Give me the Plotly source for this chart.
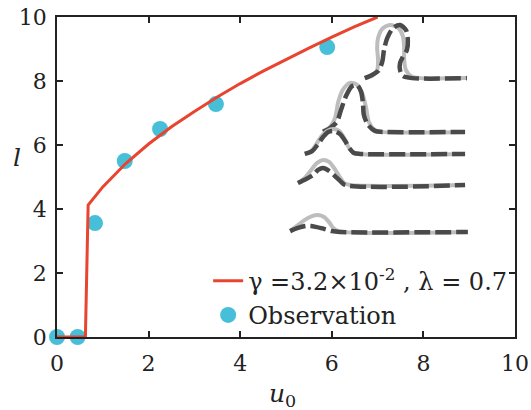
import plotly.graph_objects as go

# Model curve (gamma=3.2e-2, lambda=0.7)
model_u0 = [0.0, 0.62, 0.68, 1.0, 1.5, 2.0, 2.5, 3.0, 3.5, 4.0, 4.5, 5.0, 5.5, 6.0, 6.5, 7.0]
model_l = [0.0, 0.0, 4.12, 4.69, 5.42, 6.03, 6.57, 7.05, 7.50, 7.92, 8.31, 8.68, 9.03, 9.37, 9.70, 10.0]

# Observations
obs_u0 = [0.0, 0.45, 0.83, 1.48, 2.25, 3.47, 5.9]
obs_l = [0.0, 0.0, 3.56, 5.5, 6.5, 7.28, 9.06]

# Inset wave profiles (illustrations): light = earlier, dashed = later
p1_light_x = [6.72, 6.88, 6.99, 7.01, 6.99, 7.01, 7.10, 7.27, 7.45, 7.55, 7.58, 7.58, 7.62, 7.75, 7.93, 8.95]
p1_light_y = [8.09, 8.16, 8.34, 8.66, 9.03, 9.34, 9.63, 9.75, 9.66, 9.41, 9.03, 8.66, 8.34, 8.13, 8.09, 8.09]
p1_dark_x = [6.72, 6.88, 7.01, 7.10, 7.14, 7.21, 7.34, 7.49, 7.62, 7.66, 7.64, 7.55, 7.49, 7.49, 7.55, 7.75, 8.95]
p1_dark_y = [8.09, 8.19, 8.31, 8.59, 8.97, 9.34, 9.66, 9.75, 9.59, 9.28, 8.97, 8.75, 8.56, 8.34, 8.16, 8.09, 8.09]

p2_light_x = [5.81, 5.96, 6.07, 6.14, 6.24, 6.40, 6.55, 6.66, 6.75, 6.81, 6.94, 7.10, 8.91]
p2_light_y = [6.44, 6.56, 6.84, 7.34, 7.72, 7.94, 7.88, 7.63, 7.16, 6.72, 6.47, 6.41, 6.41]
p2_dark_x = [5.81, 5.96, 6.11, 6.20, 6.31, 6.44, 6.55, 6.64, 6.68, 6.70, 6.79, 6.94, 7.10, 8.91]
p2_dark_y = [6.41, 6.53, 6.72, 7.09, 7.53, 7.84, 7.88, 7.66, 7.31, 6.94, 6.63, 6.44, 6.41, 6.41]

p3_light_x = [5.41, 5.55, 5.65, 5.76, 5.90, 6.03, 6.16, 6.27, 6.35, 6.46, 6.62, 8.91]
p3_light_y = [5.72, 5.81, 6.00, 6.25, 6.44, 6.50, 6.44, 6.22, 5.97, 5.78, 5.72, 5.72]
p3_dark_x = [5.41, 5.57, 5.70, 5.81, 5.92, 6.05, 6.18, 6.29, 6.38, 6.48, 6.62, 8.91]
p3_dark_y = [5.72, 5.81, 6.03, 6.25, 6.41, 6.44, 6.34, 6.13, 5.91, 5.75, 5.72, 5.72]

p4_light_x = [5.26, 5.41, 5.55, 5.68, 5.81, 5.94, 6.05, 6.16, 6.27, 6.40, 8.91]
p4_light_y = [4.81, 4.97, 5.22, 5.44, 5.53, 5.47, 5.28, 5.03, 4.81, 4.75, 4.75]
p4_dark_x = [5.26, 5.44, 5.59, 5.70, 5.81, 5.94, 6.07, 6.18, 6.29, 8.91]
p4_dark_y = [4.81, 4.94, 5.06, 5.22, 5.28, 5.19, 5.03, 4.88, 4.75, 4.75]

p5_light_x = [5.09, 5.24, 5.41, 5.57, 5.70, 5.83, 5.94, 6.03, 6.14, 8.97]
p5_light_y = [3.31, 3.47, 3.66, 3.78, 3.81, 3.75, 3.59, 3.41, 3.31, 3.28]
p5_dark_x = [5.09, 5.26, 5.44, 5.55, 5.65, 5.83, 6.00, 6.18, 8.97]
p5_dark_y = [3.31, 3.41, 3.47, 3.47, 3.44, 3.38, 3.31, 3.28, 3.28]

x_ticks = [0, 2, 4, 6, 8, 10]
y_ticks = [0, 2, 4, 6, 8, 10]

FONT = "DejaVu Serif"
fig = go.Figure()

profiles = [
    (p1_light_x, p1_light_y, p1_dark_x, p1_dark_y),
    (p2_light_x, p2_light_y, p2_dark_x, p2_dark_y),
    (p3_light_x, p3_light_y, p3_dark_x, p3_dark_y),
    (p4_light_x, p4_light_y, p4_dark_x, p4_dark_y),
    (p5_light_x, p5_light_y, p5_dark_x, p5_dark_y),
]
for lx, ly, dx, dy in profiles:
    fig.add_trace(go.Scatter(x=lx, y=ly, mode="lines", showlegend=False, hoverinfo="skip",
                             line=dict(color="#bdbdbd", width=4, shape="spline", smoothing=0.8)))
    fig.add_trace(go.Scatter(x=dx, y=dy, mode="lines", showlegend=False, hoverinfo="skip",
                             line=dict(color="#4a4a4a", width=4.5, shape="spline", smoothing=0.8,
                                       dash="16px,5px")))

fig.add_trace(go.Scatter(x=obs_u0, y=obs_l, mode="markers", name="Observation",
                         cliponaxis=False, legendrank=2,
                         marker=dict(color="#48BFD9", size=16)))
fig.add_trace(go.Scatter(x=model_u0, y=model_l, mode="lines",
                         name="γ =3.2×10<sup>-2</sup> , λ = 0.7", legendrank=1,
                         line=dict(color="#E8442F", width=3)))

axis_common = dict(
    range=[0, 10], showgrid=False, zeroline=False, showline=True, linecolor="#222",
    linewidth=1.5, mirror="ticks", ticks="inside", ticklen=6, tickwidth=1.5,
    tickcolor="#222", tickfont=dict(family=FONT, size=22, color="#222"),
    automargin=False,
)
fig.update_xaxes(tickvals=x_ticks, ticklabelstandoff=6, **axis_common)
fig.update_yaxes(tickvals=y_ticks, ticklabelstandoff=4, **axis_common)

fig.update_layout(
    width=531, height=410,
    margin=dict(l=57, r=16, t=17, b=73),
    plot_bgcolor="white", paper_bgcolor="white",
    font=dict(family=FONT, color="#222"),
    legend=dict(x=0.33, y=0.245, xanchor="left", yanchor="top",
                bgcolor="rgba(0,0,0,0)", font=dict(family=FONT, size=24, color="#222"),
                tracegroupgap=0, itemwidth=30),
    annotations=[
        dict(text="<i>u</i><sub>0</sub>", xref="paper", yref="paper", x=0.493, y=-0.18,
             xanchor="center", yanchor="middle",
             showarrow=False, font=dict(family=FONT, size=25, color="#222")),
        dict(text="<i>l</i>", xref="paper", yref="paper", x=-0.087, y=0.5625,
             xanchor="center", yanchor="middle",
             showarrow=False, font=dict(family=FONT, size=25, color="#222")),
    ],
)

fig.write_html("out.html", config={"displayModeBar": False},
               post_script="document.body.style.margin='0';")
